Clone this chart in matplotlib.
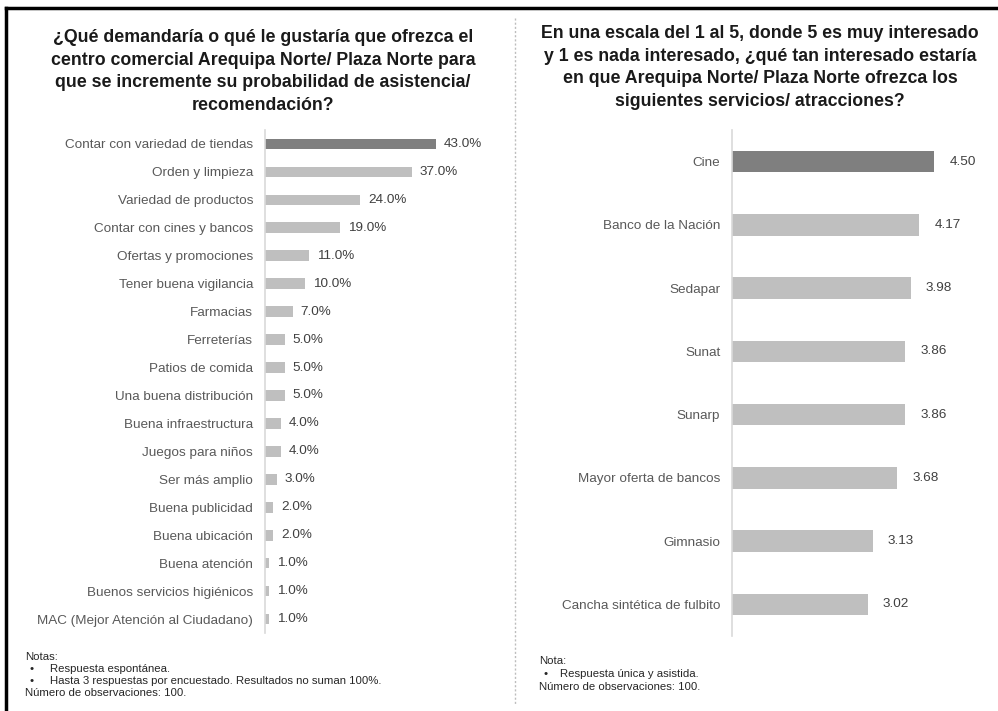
import matplotlib
matplotlib.use("Agg")
import matplotlib.pyplot as plt
from matplotlib.lines import Line2D

plt.rcParams['font.family'] = ['Liberation Sans', 'DejaVu Sans']

# panel izquierdo: demandas espontáneas (%)
demandas = [
    "Contar con variedad de tiendas", "Orden y limpieza", "Variedad de productos",
    "Contar con cines y bancos", "Ofertas y promociones", "Tener buena vigilancia",
    "Farmacias", "Ferreterías", "Patios de comida", "Una buena distribución",
    "Buena infraestructura", "Juegos para niños", "Ser más amplio",
    "Buena publicidad", "Buena ubicación", "Buena atención",
    "Buenos servicios higiénicos", "MAC (Mejor Atención al Ciudadano)",
]
pct_demandas = [43.0, 37.0, 24.0, 19.0, 11.0, 10.0, 7.0, 5.0, 5.0, 5.0,
                4.0, 4.0, 3.0, 2.0, 2.0, 1.0, 1.0, 1.0]

# panel derecho: interés de 1 a 5
servicios = ["Cine", "Banco de la Nación", "Sedapar", "Sunat", "Sunarp",
             "Mayor oferta de bancos", "Gimnasio", "Cancha sintética de fulbito"]
interes = [4.50, 4.17, 3.98, 3.86, 3.86, 3.68, 3.13, 3.02]

titulo_izq = ("¿Qué demandaría o qué le gustaría que ofrezca el\n"
              "centro comercial Arequipa Norte/ Plaza Norte para\n"
              "que se incremente su probabilidad de asistencia/\n"
              "recomendación?")
titulo_der = ("En una escala del 1 al 5, donde 5 es muy interesado\n"
              "y 1 es nada interesado, ¿qué tan interesado estaría\n"
              "en que Arequipa Norte/ Plaza Norte ofrezca los\n"
              "siguientes servicios/ atracciones?")

W, H = 998, 711
fig = plt.figure(figsize=(W / 100, H / 100), dpi=100)
fig.patch.set_facecolor("white")

OSCURO = "#7f7f7f"
CLARO = "#bfbfbf"
ETQ = "#595959"
VAL = "#404040"
FS = 9.7


def px(x, y):
    return x / W, 1 - y / H


def estilo(ax):
    for s in ["top", "right", "bottom"]:
        ax.spines[s].set_visible(False)
    ax.spines["left"].set_color("#d9d9d9")
    ax.spines["left"].set_linewidth(1.2)
    ax.set_xticks([])
    ax.tick_params(axis="y", length=0, pad=8.5, labelsize=FS, labelcolor=ETQ)


# izquierda
ax1 = fig.add_axes([265 / W, 1 - 633 / H, 240 / W, 503 / H])
colores1 = [OSCURO] + [CLARO] * (len(demandas) - 1)
y1 = range(len(demandas))
ax1.barh(y1, pct_demandas, height=0.38, color=colores1)
ax1.set_yticks(list(y1))
ax1.set_yticklabels(demandas)
ax1.set_xlim(0, 60.5)
estilo(ax1)
ax1.set_ylim(len(demandas) - 0.5, -0.5)
for i, v in enumerate(pct_demandas):
    ax1.text(v + 2.0, i, f"{v:.1f}%", va="center", ha="left",
             fontsize=FS, color=VAL)

# derecha
ax2 = fig.add_axes([732 / W, 1 - 636 / H, 247 / W, 506 / H])
colores2 = [OSCURO] + [CLARO] * (len(servicios) - 1)
y2 = range(len(servicios))
ax2.barh(y2, interes, height=0.34, color=colores2)
ax2.set_yticks(list(y2))
ax2.set_yticklabels(servicios)
ax2.set_xlim(0, 5.5)
estilo(ax2)
ax2.set_ylim(len(servicios) - 0.5, -0.5)
for i, v in enumerate(interes):
    ax2.text(v + 0.34, i, f"{v:.2f}", va="center", ha="left",
             fontsize=FS, color=VAL)

# títulos
fig.text(*px(263, 29), titulo_izq, ha="center", va="top", fontsize=12.8,
         fontweight="bold", color="#1a1a1a", linespacing=1.44)
fig.text(*px(760, 25), titulo_der, ha="center", va="top", fontsize=12.8,
         fontweight="bold", color="#1a1a1a", linespacing=1.44)

# notas
nota_fs = 8.2
gris = "#262626"
fig.text(*px(25, 657), "Notas:", fontsize=nota_fs, va="center", color=gris)
fig.text(*px(30, 669), "•", fontsize=nota_fs, va="center", color=gris)
fig.text(*px(50, 669), "Respuesta espontánea.", fontsize=nota_fs, va="center", color=gris)
fig.text(*px(30, 681), "•", fontsize=nota_fs, va="center", color=gris)
fig.text(*px(50, 681), "Hasta 3 respuestas por encuestado. Resultados no suman 100%.",
         fontsize=nota_fs, va="center", color=gris)
fig.text(*px(25, 693), "Número de observaciones: 100.", fontsize=nota_fs, va="center", color=gris)

fig.text(*px(539, 661), "Nota:", fontsize=nota_fs, va="center", color=gris)
fig.text(*px(543, 674), "•", fontsize=nota_fs, va="center", color=gris)
fig.text(*px(560, 674), "Respuesta única y asistida.", fontsize=nota_fs, va="center", color=gris)
fig.text(*px(539, 687), "Número de observaciones: 100.", fontsize=nota_fs, va="center", color=gris)

# separador punteado y marco
fig.add_artist(Line2D([515 / W, 515 / W], [1 - 18 / H, 1 - 705 / H],
                      color="#bdbdbd", linewidth=1, linestyle=(0, (1.5, 1.5))))
fig.add_artist(Line2D([6 / W, 6 / W], [0, 1 - 8 / H], color="black", linewidth=2.5))
fig.add_artist(Line2D([6 / W, 1], [1 - 8 / H, 1 - 8 / H], color="black", linewidth=2.5))

fig.savefig("out.png", dpi=100, facecolor="white")
